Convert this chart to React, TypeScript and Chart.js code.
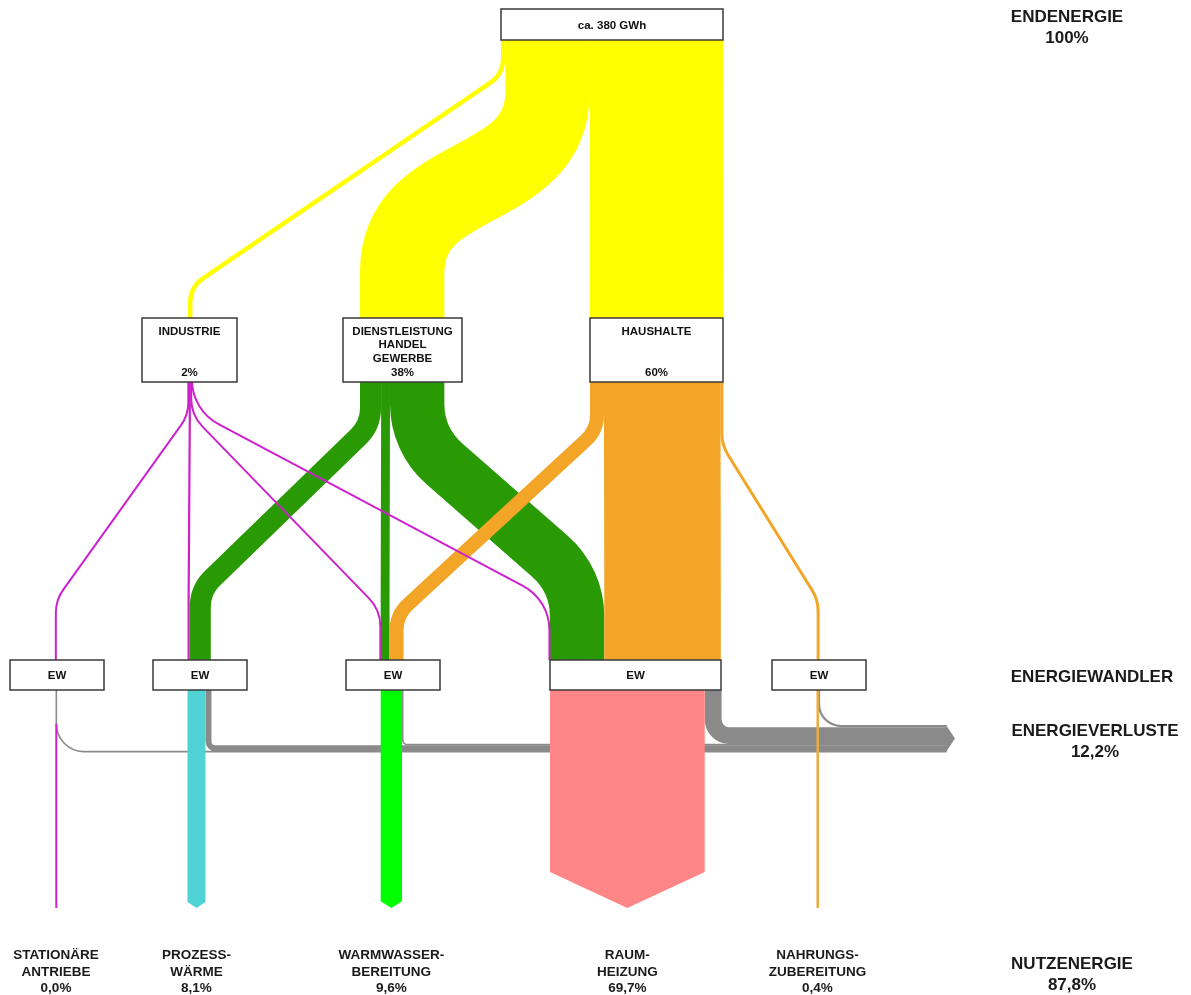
import { useEffect, useRef } from "react";
import { Chart, registerables } from "chart.js";

Chart.register(...registerables);

// ------------------------------------------------------------------
// DATA (percent of Endenergie)
// ------------------------------------------------------------------
const TOTAL_LABEL = "ca. 380 GWh";
const SECTORS = [["INDUSTRIE"], ["DIENSTLEISTUNG", "HANDEL", "GEWERBE"], ["HAUSHALTE"]];
const SECTOR_SHARE = [2, 38, 60];
const SECTOR_PCT_LABELS = ["2%", "38%", "60%"];

const USES = [
  ["STATIONÄRE", "ANTRIEBE"],
  ["PROZESS-", "WÄRME"],
  ["WARMWASSER-", "BEREITUNG"],
  ["RAUM-", "HEIZUNG"],
  ["NAHRUNGS-", "ZUBEREITUNG"],
];
// sector -> energy converter (per use), in %
const FROM_INDUSTRIE = [0.3, 1.0, 0.3, 0.4, 0];
const FROM_DIENSTLEISTUNG = [0, 9.5, 4.0, 24.5, 0];
const FROM_HAUSHALTE = [0, 0, 6.3, 52.5, 1.2];
// converter -> useful energy / losses, in %
const USEFUL = [0.0, 8.1, 9.6, 69.7, 0.4];
const USEFUL_LABELS = ["0,0%", "8,1%", "9,6%", "69,7%", "0,4%"];
const LOSSES = [0.3, 2.7, 0.6, 7.6, 1.0];
const CONVERTER_LABEL = "EW";

const STAGE_LABELS = [
  ["ENDENERGIE", "100%"],
  ["ENERGIEWANDLER"],
  ["ENERGIEVERLUSTE", "12,2%"],
  ["NUTZENERGIE", "87,8%"],
];

// ------------------------------------------------------------------
// LAYOUT / STYLE (scale units)
// ------------------------------------------------------------------
const CANVAS_W = 1191;
const CANVAS_H = 995;
const TOP_NODE = { x: 501, y: 9, w: 222, h: 31 };
const SECTOR_Y = 318;
const SECTOR_H = 64;
const SECTOR_NODES = [
  { x: 142, w: 95, port: 188 },
  { x: 343, w: 119, port: 360 },
  { x: 590, w: 133, port: 590 },
];
const EW_Y = 660;
const EW_H = 30;
const EW_NODES = [
  { x: 10, w: 94, inPort: 55.5, outPort: 56 },
  { x: 153, w: 94, inPort: 187.5, outPort: 187.5 },
  { x: 346, w: 94, inPort: 380, outPort: 380.7 },
  { x: 550, w: 171, inPort: 549, outPort: 550 },
  { x: 772, w: 94, inPort: 816.8, outPort: 817 },
];
const OUT_END_Y = 908;
const BAND_BOTTOM = 752;
const BAND_END = 946;
const BAND_TIP = 955;
const LOSS_RADIUS = [28, 7, 5, 16, 22];

// bends [y1, y2, radius] for sector -> converter flows
const BENDS_INDUSTRIE = [[415, 600, 40], [420, 600, 8], [415, 610, 40], [410, 600, 50], null];
const BENDS_DIENSTLEISTUNG = [null, [425, 590, 40], [420, 600, 5], [440, 580, 80], null];
const BENDS_HAUSHALTE = [null, null, [430, 615, 35], [420, 600, 5], [445, 600, 40]];

const YELLOW = "#ffff00";
const SECTOR_COLORS = ["#cc22cc", "#2a9a04", "#f2a527"];
const USE_COLORS = ["#cc22cc", "#4fd3d5", "#00ff00", "#ff8686", "#e9ad45"];
const LOSS_COLOR = "#8a8a8a";
const BOX_STROKE = "#3a3a3a";
const FONT = '"Liberation Sans", Arial, sans-serif';

type P = [number, number];

function strokeRoute(ctx: CanvasRenderingContext2D, pts: P[], r: number, width: number, color: string) {
  ctx.save();
  ctx.beginPath();
  ctx.moveTo(pts[0][0], pts[0][1]);
  for (let i = 1; i < pts.length - 1; i++) {
    ctx.arcTo(pts[i][0], pts[i][1], pts[i + 1][0], pts[i + 1][1], r);
  }
  ctx.lineTo(pts[pts.length - 1][0], pts[pts.length - 1][1]);
  ctx.lineWidth = width;
  ctx.strokeStyle = color;
  ctx.lineCap = "butt";
  ctx.lineJoin = "round";
  ctx.stroke();
  ctx.restore();
}

function box(ctx: CanvasRenderingContext2D, x: number, y: number, w: number, h: number) {
  ctx.save();
  ctx.fillStyle = "#ffffff";
  ctx.fillRect(x, y, w, h);
  ctx.strokeStyle = BOX_STROKE;
  ctx.lineWidth = 1.5;
  ctx.strokeRect(x, y, w, h);
  ctx.restore();
}

function text(ctx: CanvasRenderingContext2D, s: string, x: number, y: number, font: string, color = "#111") {
  ctx.save();
  ctx.font = font;
  ctx.fillStyle = color;
  ctx.textAlign = "center";
  ctx.textBaseline = "middle";
  ctx.fillText(s, x, y);
  ctx.restore();
}

const sankeyPlugin = {
  id: "energySankey",
  afterDraw(chart: any) {
    const ctx: CanvasRenderingContext2D = chart.ctx;
    const xs = chart.scales.x;
    const ys = chart.scales.y;
    const X = (v: number) => xs.getPixelForValue(v);
    const Y = (v: number) => ys.getPixelForValue(v);
    const unit = TOP_NODE.w / 100; // scale units per percent
    const W = (pct: number) => X(TOP_NODE.x + pct * unit) - X(TOP_NODE.x);
    const minW = (pct: number, m: number) => Math.max(W(pct), m);

    // ---------- Endenergie -> sectors (yellow) ----------
    let cum = 0;
    for (let i = 0; i < SECTOR_SHARE.length; i++) {
      const v = SECTOR_SHARE[i];
      const cx0 = X(TOP_NODE.x + (cum + v / 2) * unit);
      cum += v;
      const cx1 = X(SECTOR_NODES[i].port) + W(v) / 2;
      const y0 = Y(TOP_NODE.y + TOP_NODE.h);
      const y1 = Y(SECTOR_Y);
      if (i === 0) {
        strokeRoute(ctx, [[cx0, y0], [cx0, Y(74)], [cx1, Y(287)], [cx1, y1]], 30, minW(v, 3), YELLOW);
      } else if (i === 1) {
        ctx.save();
        ctx.beginPath();
        ctx.moveTo(cx0, y0);
        ctx.lineTo(cx0, Y(92));
        ctx.bezierCurveTo(cx0, Y(195), cx1, Y(170), cx1, Y(272));
        ctx.lineTo(cx1, y1);
        ctx.lineWidth = W(v);
        ctx.strokeStyle = YELLOW;
        ctx.lineCap = "butt";
        ctx.stroke();
        ctx.restore();
      } else {
        strokeRoute(ctx, [[cx0, y0], [cx1, y1]], 0, W(v), YELLOW);
      }
    }

    // ---------- sectors -> converters ----------
    const flows = [FROM_INDUSTRIE, FROM_DIENSTLEISTUNG, FROM_HAUSHALTE];
    const bends = [BENDS_INDUSTRIE, BENDS_DIENSTLEISTUNG, BENDS_HAUSHALTE];
    const ewCum = EW_NODES.map(() => 0);
    const drawList: { pts: P[]; r: number; w: number; c: string; s: number }[] = [];
    for (let s = 0; s < flows.length; s++) {
      let sc = 0;
      for (let u = 0; u < USES.length; u++) {
        const v = flows[s][u];
        if (!v) continue;
        const b = bends[s][u] as number[];
        const sx = X(SECTOR_NODES[s].port) + W(sc + v / 2);
        sc += v;
        const tx = X(EW_NODES[u].inPort) + W(ewCum[u] + v / 2);
        ewCum[u] += v;
        const pts: P[] = [[sx, Y(SECTOR_Y + SECTOR_H)], [sx, Y(b[0])], [tx, Y(b[1])], [tx, Y(EW_Y)]];
        drawList.push({ pts, r: b[2], w: minW(v, s === 0 ? 2 : 3), c: SECTOR_COLORS[s], s });
      }
    }
    drawList.filter((d) => d.s !== 0).forEach((d) => strokeRoute(ctx, d.pts, d.r, d.w, d.c));
    drawList.filter((d) => d.s === 0).forEach((d) => strokeRoute(ctx, d.pts, d.r, d.w, d.c));

    // ---------- losses (grey band) ----------
    let lc = 0;
    const lossInfo: { yc: number; r: number }[] = [];
    for (let u = 0; u < USES.length; u++) {
      const w = W(LOSSES[u]);
      const yc = Y(BAND_BOTTOM) - lc - w / 2;
      lc += w;
      const xc = X(EW_NODES[u].outPort) + W(USEFUL[u]) + w / 2;
      lossInfo.push({ yc, r: LOSS_RADIUS[u] });
      strokeRoute(ctx, [[xc, Y(EW_Y + EW_H)], [xc, yc], [X(BAND_END) + 0.5, yc]], LOSS_RADIUS[u], Math.max(w, 1.6), LOSS_COLOR);
    }
    ctx.save();
    ctx.beginPath();
    ctx.moveTo(X(BAND_END), Y(BAND_BOTTOM) - lc);
    ctx.lineTo(X(BAND_TIP), Y(BAND_BOTTOM) - lc / 2);
    ctx.lineTo(X(BAND_END), Y(BAND_BOTTOM));
    ctx.closePath();
    ctx.fillStyle = LOSS_COLOR;
    ctx.fill();
    ctx.restore();

    // ---------- useful energy outputs ----------
    for (let u = 0; u < USES.length; u++) {
      const w = W(USEFUL[u]);
      const x0 = X(EW_NODES[u].outPort);
      const yTip = Y(OUT_END_Y);
      if (w < 4) {
        const startY = u === 0 ? lossInfo[u].yc - lossInfo[u].r : Y(EW_Y + EW_H);
        strokeRoute(ctx, [[x0 + w / 2 + 0.3, startY], [x0 + w / 2 + 0.3, yTip]], 0, u === 0 ? 2 : 2.6, USE_COLORS[u]);
      } else {
        const th = 2 + 0.22 * w;
        ctx.save();
        ctx.beginPath();
        ctx.moveTo(x0, Y(EW_Y + EW_H));
        ctx.lineTo(x0 + w, Y(EW_Y + EW_H));
        ctx.lineTo(x0 + w, yTip - th);
        ctx.lineTo(x0 + w / 2, yTip);
        ctx.lineTo(x0, yTip - th);
        ctx.closePath();
        ctx.fillStyle = USE_COLORS[u];
        ctx.fill();
        ctx.restore();
      }
    }

    // ---------- boxes ----------
    const boxFont = `bold 11.5px ${FONT}`;
    box(ctx, X(TOP_NODE.x), Y(TOP_NODE.y), W(100), Y(TOP_NODE.y + TOP_NODE.h) - Y(TOP_NODE.y));
    text(ctx, TOTAL_LABEL, X(TOP_NODE.x + TOP_NODE.w / 2), Y(TOP_NODE.y + TOP_NODE.h / 2 + 1), boxFont);

    for (let s = 0; s < SECTORS.length; s++) {
      const n = SECTOR_NODES[s];
      box(ctx, X(n.x), Y(SECTOR_Y), X(n.x + n.w) - X(n.x), Y(SECTOR_Y + SECTOR_H) - Y(SECTOR_Y));
      SECTORS[s].forEach((line, i) => text(ctx, line, X(n.x + n.w / 2), Y(SECTOR_Y + 14 + i * 13.3), boxFont));
      text(ctx, SECTOR_PCT_LABELS[s], X(n.x + n.w / 2), Y(SECTOR_Y + 55), boxFont);
    }
    for (let u = 0; u < EW_NODES.length; u++) {
      const n = EW_NODES[u];
      box(ctx, X(n.x), Y(EW_Y), X(n.x + n.w) - X(n.x), Y(EW_Y + EW_H) - Y(EW_Y));
      text(ctx, CONVERTER_LABEL, X(n.x + n.w / 2), Y(EW_Y + EW_H / 2 + 0.5), boxFont);
    }

    // ---------- use labels ----------
    const useFont = `bold 13.5px ${FONT}`;
    for (let u = 0; u < USES.length; u++) {
      const cx = X(EW_NODES[u].outPort) + W(USEFUL[u]) / 2;
      const lines = [...USES[u], USEFUL_LABELS[u]];
      lines.forEach((l, i) => text(ctx, l, cx, Y(955 + i * 16.8), useFont, "#1a1a1a"));
    }

    // ---------- stage labels ----------
    const stageFont = `bold 17px ${FONT}`;
    const stagePos = [
      { x: 1067, y: 17 },
      { x: 1092, y: 677 },
      { x: 1095, y: 731 },
      { x: 1072, y: 964 },
    ];
    STAGE_LABELS.forEach((ls, k) => {
      ls.forEach((l, i) => text(ctx, l, X(stagePos[k].x), Y(stagePos[k].y + i * 21), stageFont, "#1a1a1a"));
    });
  },
};

export default function App() {
  const ref = useRef<HTMLCanvasElement>(null);
  useEffect(() => {
    if (!ref.current) return;
    const chart = new Chart(ref.current, {
      type: "scatter",
      data: { datasets: [{ data: [] }] },
      options: {
        responsive: false,
        animation: false,
        devicePixelRatio: 1,
        layout: { padding: 0 },
        plugins: { legend: { display: false }, tooltip: { enabled: false } },
        scales: {
          x: { type: "linear", min: 0, max: CANVAS_W, display: false },
          y: { type: "linear", min: 0, max: CANVAS_H, reverse: true, display: false },
        },
      },
      plugins: [sankeyPlugin],
    } as any);
    return () => chart.destroy();
  }, []);
  return (
    <div style={{ position: "absolute", left: 0, top: 0, width: CANVAS_W, height: CANVAS_H, background: "#fff" }}>
      <canvas ref={ref} width={CANVAS_W} height={CANVAS_H} style={{ display: "block" }} />
    </div>
  );
}
